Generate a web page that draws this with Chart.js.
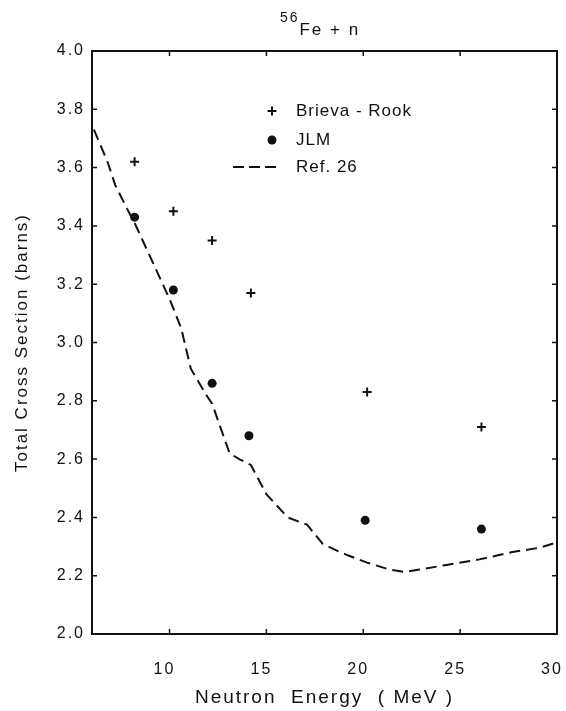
<!DOCTYPE html>
<html>
<head>
<meta charset="utf-8">
<script src="https://cdn.jsdelivr.net/npm/chart.js@4.4.1/dist/chart.umd.min.js"></script>
<style>
  html,body{margin:0;padding:0;background:#fff;}
  #wrap{width:566px;height:711px;}
</style>
</head>
<body>
<div id="wrap"><canvas id="xsChart" width="566" height="711"></canvas></div>
<script>
// ── values ──
const brievaE  = [8.2, 10.2, 12.2, 14.2, 20.2, 26.1];
const brievaXS = [3.62, 3.45, 3.35, 3.17, 2.83, 2.71];
const jlmE     = [8.2, 10.2, 12.2, 14.1, 20.1, 26.1];
const jlmXS    = [3.43, 3.18, 2.86, 2.68, 2.39, 2.36];
const refE  = [6.1, 6.8, 7.2, 7.8, 8.2, 9.1, 10.0, 10.6, 11.1, 11.9, 12.2, 13.1, 13.6, 14.2, 15.0,
               16.1, 17.1, 17.9, 18.5, 19.2, 20.2, 21.3, 22.1, 22.9, 24.3, 26.0, 27.7, 29.1, 30.0];
const refXS = [3.73, 3.62, 3.54, 3.46, 3.41, 3.28, 3.15, 3.05, 2.91, 2.82, 2.79, 2.62, 2.60, 2.58, 2.48,
               2.40, 2.375, 2.31, 2.29, 2.27, 2.245, 2.222, 2.213, 2.221, 2.237, 2.256, 2.281, 2.296, 2.314];
const xTicks = [10, 15, 20, 25, 30];
const yTicks = [2.0, 2.2, 2.4, 2.6, 2.8, 3.0, 3.2, 3.4, 3.6, 3.8, 4.0];

const FONT = '"Liberation Sans", Arial, sans-serif';
const INK  = '#111';

function pairs(xs, ys){ return xs.map((x,i)=>({x:x, y:ys[i]})); }

// letter spacing like the plotter lettering
const spacingPlug = {
  id:'spacing',
  beforeLayout(chart){ chart.ctx.letterSpacing='2px'; },
  beforeDraw(chart){ chart.ctx.letterSpacing='2px'; }
};

// closed frame + inward tick marks on all four sides
const framePlug = {
  id:'frame',
  afterDraw(chart){
    const ctx=chart.ctx, {left,right,top,bottom}=chart.chartArea;
    const sx=chart.scales.x, sy=chart.scales.y, tl=5;
    ctx.save();
    ctx.strokeStyle=INK;
    ctx.lineWidth=1.5;
    ctx.beginPath();
    sx.ticks.forEach(t=>{
      const px=sx.getPixelForValue(t.value);
      ctx.moveTo(px,bottom); ctx.lineTo(px,bottom-tl);
      ctx.moveTo(px,top);    ctx.lineTo(px,top+tl);
    });
    sy.ticks.forEach(t=>{
      const py=sy.getPixelForValue(t.value);
      ctx.moveTo(left,py);  ctx.lineTo(left+tl,py);
      ctx.moveTo(right,py); ctx.lineTo(right-tl,py);
    });
    ctx.stroke();
    ctx.lineWidth=2;
    ctx.strokeRect(left,top,right-left,bottom-top);
    ctx.restore();
  }
};

// title with superscript mass number
const titlePlug = {
  id:'isoTitle',
  afterDraw(chart){
    const ctx=chart.ctx;
    ctx.save();
    ctx.letterSpacing='2px';
    ctx.fillStyle=INK;
    ctx.textAlign='left';
    ctx.textBaseline='alphabetic';
    ctx.font='14px '+FONT;
    const wSup=ctx.measureText('56').width;
    ctx.font='17px '+FONT;
    const wMain=ctx.measureText('Fe + n').width;
    const x0=320-(wSup+wMain)/2;
    ctx.font='14px '+FONT;
    ctx.fillText('56', x0, 22);
    ctx.font='17px '+FONT;
    ctx.fillText('Fe + n', x0+wSup, 35);
    ctx.restore();
  }
};

// legend in the upper middle of the plot
const legendPlug = {
  id:'inLegend',
  afterDraw(chart){
    const ctx=chart.ctx;
    const ds=chart.data.datasets;
    const mx=272, tx=296, rows=[111,140,167];
    ctx.save();
    ctx.letterSpacing='1px';
    ctx.fillStyle=INK; ctx.strokeStyle=INK;
    ctx.font='17px '+FONT;
    ctx.textBaseline='middle';
    ctx.textAlign='left';
    // cross
    ctx.lineWidth=2;
    ctx.beginPath();
    ctx.moveTo(mx-4.5,rows[0]); ctx.lineTo(mx+4.5,rows[0]);
    ctx.moveTo(mx,rows[0]-4.5); ctx.lineTo(mx,rows[0]+4.5);
    ctx.stroke();
    // dot
    ctx.beginPath(); ctx.arc(mx,rows[1],4.5,0,Math.PI*2); ctx.fill();
    // dashed
    ctx.lineWidth=2;
    ctx.setLineDash([11,5]);
    ctx.beginPath(); ctx.moveTo(233,rows[2]); ctx.lineTo(276,rows[2]); ctx.stroke();
    ctx.setLineDash([]);
    ds.forEach((d,i)=>ctx.fillText(d.label, tx, rows[i]));
    ctx.restore();
  }
};

new Chart(document.getElementById('xsChart'), {
  type:'scatter',
  plugins:[spacingPlug, framePlug, titlePlug, legendPlug],
  data:{
    datasets:[
      {label:'Brieva - Rook', data:pairs(brievaE,brievaXS), showLine:false,
       pointStyle:'cross', pointRadius:4.5, pointBorderWidth:2,
       borderColor:INK, backgroundColor:INK},
      {label:'JLM', data:pairs(jlmE,jlmXS), showLine:false,
       pointStyle:'circle', pointRadius:4.5, pointBorderWidth:0,
       borderColor:INK, backgroundColor:INK},
      {label:'Ref. 26', data:pairs(refE,refXS), showLine:true,
       borderColor:INK, borderWidth:2, borderDash:[11,6],
       pointRadius:0, tension:0, fill:false}
    ]
  },
  options:{
    responsive:false, animation:false, devicePixelRatio:1,
    layout:{padding:{top:51, right:9, left:0, bottom:0}},
    plugins:{legend:{display:false}, tooltip:{enabled:false}, title:{display:false}},
    scales:{
      x:{type:'linear', min:6, max:30,
         afterBuildTicks(axis){ axis.ticks = xTicks.map(v=>({value:v})); },
         afterFit(axis){ axis.height = 77; axis.paddingLeft = 0; axis.paddingRight = 0; },
         grid:{display:false, drawTicks:false},
         border:{display:false},
         ticks:{color:INK, font:{family:FONT, size:16}, padding:26, labelOffset:-5,
                maxRotation:0, autoSkip:false},
         title:{display:true, text:'Neutron  Energy  ( MeV )', color:INK,
                font:{family:FONT, size:19}, padding:{top:0, bottom:2}}},
      y:{type:'linear', min:2, max:4,
         afterBuildTicks(axis){ axis.ticks = yTicks.map(v=>({value:v})); },
         afterFit(axis){ axis.width = 92; axis.paddingTop = 0; axis.paddingBottom = 0; },
         grid:{display:false, drawTicks:false},
         border:{display:false},
         ticks:{color:INK, font:{family:FONT, size:16}, padding:7,
                callback:v=>Number(v).toFixed(1)},
         title:{display:true, text:'Total Cross Section (barns)', color:INK,
                font:{family:FONT, size:17}, padding:{top:12, bottom:0}}}
    }
  }
});
</script>
</body>
</html>
